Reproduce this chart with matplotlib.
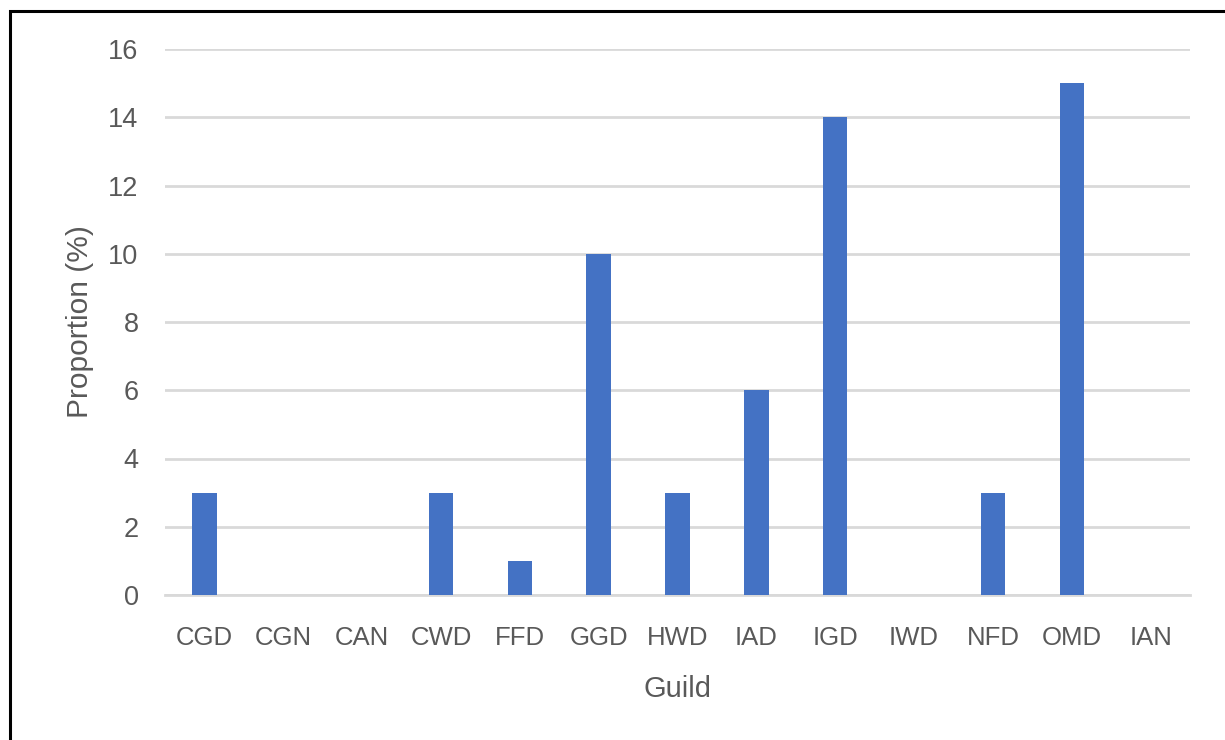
import matplotlib
matplotlib.use("Agg")
import matplotlib.pyplot as plt
from matplotlib.patches import Rectangle

guilds = ["CGD", "CGN", "CAN", "CWD", "FFD", "GGD", "HWD", "IAD", "IGD", "IWD", "NFD", "OMD", "IAN"]
proportion = [3, 0, 0, 3, 1, 10, 3, 6, 14, 0, 3, 15, 0]
y_ticks = [0, 2, 4, 6, 8, 10, 12, 14, 16]

text_color = "#595959"
bar_color = "#4472C4"
grid_color = "#D9D9D9"

plt.rcParams["font.family"] = ["Liberation Sans", "DejaVu Sans"]

W, H = 1225, 740
fig = plt.figure(figsize=(W / 100, H / 100), dpi=100)
fig.patch.set_facecolor("white")

# outer frame (only left and top edges fall inside the image)
fig.add_artist(Rectangle((10 / W, -0.05), 1.2, 1 - 11 / H + 0.05,
                         transform=fig.transFigure, fill=False,
                         edgecolor="black", linewidth=2.2))

left, right = 165 / W, 1190 / W
bottom, top = 1 - 595 / H, 1 - 49 / H
ax = fig.add_axes([left, bottom, right - left, top - bottom])

x = range(len(guilds))
ax.bar(x, proportion, width=0.31, color=bar_color, zorder=3)

ax.set_xlim(-0.5, len(guilds) - 0.5)
ax.set_ylim(0, 16)
ax.set_yticks(y_ticks)
ax.set_xticks(list(x))
ax.set_xticklabels(guilds)

ax.yaxis.grid(True, color=grid_color, linewidth=2, zorder=0)
ax.set_axisbelow(True)
for s in ["top", "right", "left"]:
    ax.spines[s].set_visible(False)
ax.spines["bottom"].set_color(grid_color)
ax.spines["bottom"].set_linewidth(2)

ax.tick_params(axis="x", length=0, colors=text_color, labelsize=18.5, pad=22)
ax.tick_params(axis="y", length=0, colors=text_color, labelsize=19.5, pad=19)

ax.set_xlabel("Guild", color=text_color, fontsize=21, labelpad=18)
ax.set_ylabel("Proportion (%)", color=text_color, fontsize=21.5, labelpad=10.5)

fig.savefig("out.png", dpi=100, facecolor="white")
